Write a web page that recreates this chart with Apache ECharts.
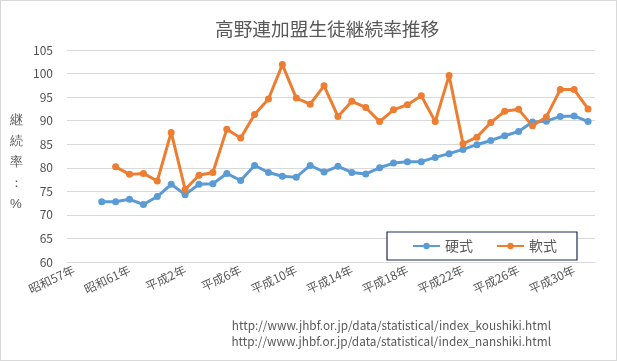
<!DOCTYPE html>
<html><head><meta charset="utf-8">
<script src="https://cdn.jsdelivr.net/npm/echarts@6/dist/echarts.min.js"></script>
<style>html,body{margin:0;padding:0;background:#fff}#c{width:617px;height:361px;box-sizing:border-box;border:1px solid #d9d9d9}</style>
</head><body><div id="c"></div>
<script>
const categories = ['昭和57年','昭和58年','昭和59年','昭和60年','昭和61年','昭和62年','昭和63年','平成元年','平成2年','平成3年','平成4年','平成5年','平成6年','平成7年','平成8年','平成9年','平成10年','平成11年','平成12年','平成13年','平成14年','平成15年','平成16年','平成17年','平成18年','平成19年','平成20年','平成21年','平成22年','平成23年','平成24年','平成25年','平成26年','平成27年','平成28年','平成29年','平成30年','令和元年'];
const koushiki = [null,null,72.8,72.8,73.3,72.2,73.9,76.5,74.3,76.5,76.6,78.8,77.3,80.5,79.0,78.2,78.0,80.5,79.1,80.3,79.0,78.7,80.0,81.0,81.3,81.3,82.2,83.0,83.9,84.9,85.8,86.8,87.7,89.7,89.9,90.9,91.0,89.8];
const nanshiki = [null,null,null,80.2,78.6,78.8,77.2,87.5,75.4,78.4,79.0,88.2,86.3,91.3,94.6,101.9,94.8,93.5,97.4,90.9,94.1,92.8,89.8,92.3,93.4,95.3,89.8,99.6,85.1,86.5,89.6,92.0,92.4,88.9,90.8,96.6,96.6,92.5];
const yTicks = {min:60, max:105, interval:5};
const seriesNames = ['硬式','軟式'];
const title = '高野連加盟生徒継続率推移';
const yTitle = '継\n続\n率\n：\n%';
const sources = ['http://www.jhbf.or.jp/data/statistical/index_koushiki.html','http://www.jhbf.or.jp/data/statistical/index_nanshiki.html'];

const font = '"Noto Sans CJK JP","Noto Sans",sans-serif';
const chart = echarts.init(document.getElementById('c'), null, {renderer:'canvas'});
const mk = (name, data, color) => ({
  name, type:'line', data, color,
  symbol:'circle', symbolSize:7, showSymbol:true,
  lineStyle:{width:3, color}, itemStyle:{color},
  connectNulls:false, animation:false
});
chart.setOption({
  animation:false,
  textStyle:{fontFamily:font},
  title:{text:title, left:209, top:14,
    textStyle:{fontSize:18.7, fontWeight:'normal', color:'#595959', fontFamily:font}},
  grid:{left:66, right:21, top:49, bottom:98, containLabel:false},
  xAxis:{type:'category', data:categories, boundaryGap:true,
    axisLine:{lineStyle:{color:'#d9d9d9'}}, axisTick:{show:false},
    axisLabel:{interval:3, rotate:25, color:'#595959', fontSize:12, margin:7, fontFamily:font}},
  yAxis:{type:'value', min:yTicks.min, max:yTicks.max, interval:yTicks.interval,
    axisLine:{show:false}, axisTick:{show:false},
    splitLine:{lineStyle:{color:'#d9d9d9', width:1}},
    axisLabel:{color:'#505050', fontSize:12, margin:14, fontFamily:font}},
  legend:{data:seriesNames, left:386, top:231, orient:'horizontal',
    padding:[7,20,7,25], itemGap:23, itemWidth:27, itemHeight:8,
    borderColor:'#1f2a5a', borderWidth:1.2, backgroundColor:'#fff',
    textStyle:{fontSize:14, color:'#595959', fontFamily:font}},
  graphic:[
    {type:'text', left:9, top:109, style:{text:yTitle, fontSize:13.3, lineHeight:21, fill:'#595959', font:'13.3px '+font, align:'center'}},
    {type:'text', right:65, top:319, style:{text:sources[0], fill:'#595959', font:'11.8px '+font, align:'right'}},
    {type:'text', right:65, top:335, style:{text:sources[1], fill:'#595959', font:'11.8px '+font, align:'right'}}
  ],
  series:[mk(seriesNames[0], koushiki, '#5B9BD5'), mk(seriesNames[1], nanshiki, '#ED7D31')]
});
</script></body></html>
